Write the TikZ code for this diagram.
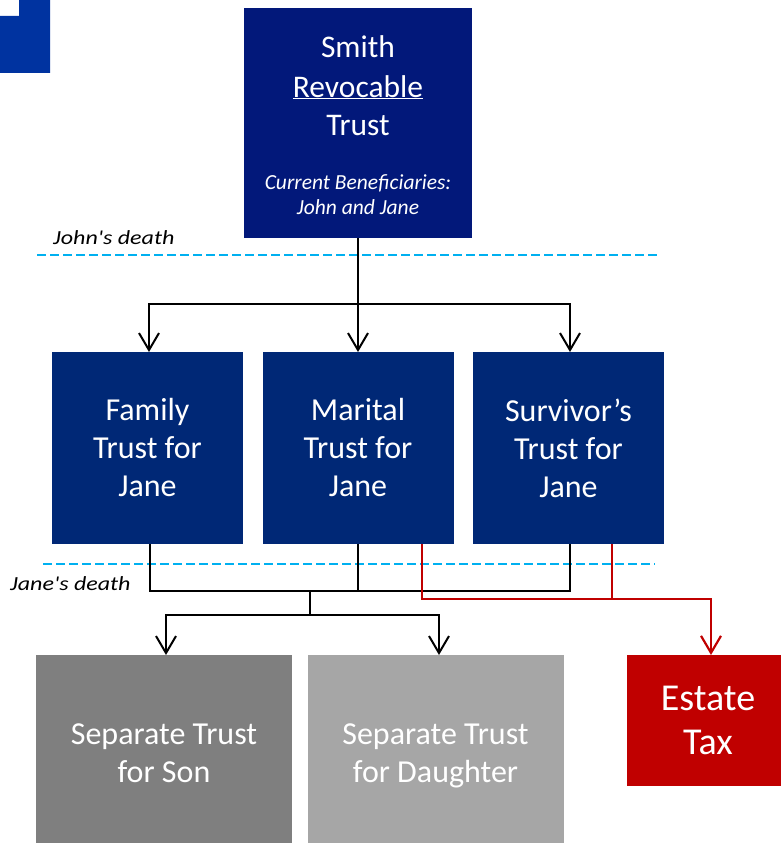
\documentclass[tikz,border=0pt]{standalone}
\usepackage{fontspec}
\setmainfont{Carlito}
\newfontfamily\deathfont{Carlito}[FakeStretch=1.2]
\usetikzlibrary{arrows.meta}
\definecolor{topblue}{RGB}{2,24,122}
\definecolor{midblue}{RGB}{0,40,118}
\definecolor{cornerblue}{RGB}{0,51,160}
\definecolor{sonGray}{RGB}{127,127,127}
\definecolor{dauGray}{RGB}{166,166,166}
\definecolor{taxRed}{RGB}{192,0,0}
\definecolor{dashBlue}{RGB}{0,176,240}
\tikzset{
  boxbase/.style={rectangle, inner sep=0pt, outer sep=0pt, text=white, align=center},
  midbox/.style={boxbase, fill=midblue, minimum width=191pt, minimum height=192pt,
     font=\fontsize{32}{38}\selectfont},
  botbox/.style={boxbase, minimum width=256pt, minimum height=202pt,
     font=\fontsize{32}{38}\selectfont},
  toptext/.style={text=white, inner sep=0pt, anchor=base, font=\fontsize{31.5}{38}\selectfont},
  topital/.style={text=white, inner sep=0pt, anchor=base, font=\fontsize{21.5}{26}\selectfont\itshape},
  deathlabel/.style={inner sep=0pt, anchor=base west, font=\deathfont\fontsize{20}{24}\selectfont\itshape},
  timeline/.style={dashBlue, line width=2.5pt, dash pattern=on 9pt off 4pt},
  conn/.style={black, line width=2pt},
  arr/.style={conn, -{Straight Barb[length=17pt, width=20pt, line width=2pt]}},
  redconn/.style={taxRed, line width=2.2pt},
  redarr/.style={redconn, -{Straight Barb[length=17pt, width=20pt, line width=2.2pt]}},
}
\begin{document}
\begin{tikzpicture}[x=1pt, y=-1pt]
\useasboundingbox (0,0) rectangle (780,843);
% corner decoration
\fill[cornerblue] (0,16) -- (19,16) -- (19,0) -- (50,0) -- (50,73) -- (0,73) -- cycle;

% timelines
\draw[timeline] (37,255) -- (660,255);
\draw[timeline] (43,564) -- (655,564);
\node[deathlabel] (jdeath) at (53,244) {John{\char"27}s death};
\node[deathlabel] (janedeath) at (10,590) {Jane{\char"27}s death};

% top box
\node[boxbase, fill=topblue, minimum width=228pt, minimum height=230pt] (top) at (358,123) {};
\node[toptext] (t1) at (358,58) {Smith};
\node[toptext] (t2) at (358,97) {\underline{Revocable}};
\node[toptext] (t3) at (358,135) {Trust};
\node[topital] (t4) at (358,189) {Current Beneficiaries:};
\node[topital] (t5) at (358,214) {John and Jane};

% middle boxes
\node[midbox] (fam) at (147.5,448) {Family\\Trust for\\Jane};
\node[midbox] (mar) at (358,448) {Marital\\Trust for\\Jane};
\node[midbox] (sur) at (568.5,448) {Survivor’s\\Trust for\\Jane};

% bottom boxes (extend below the page edge)
\node[botbox, fill=sonGray] (son) at (164,756) {Separate Trust\\for Son\vphantom{g}};
\node[botbox, fill=dauGray] (dau) at (435.5,756) {Separate Trust\\for Daughter};
\node[boxbase, fill=taxRed, minimum width=162pt, minimum height=131pt,
      font=\fontsize{38}{44}\selectfont] (tax) at (708,720.5) {Estate\\Tax};

% John's death split
\coordinate (split) at (358,304);
\draw[conn] (top.south) -- (split);
\draw[arr] (split) -- (mar.north);
\draw[arr] (split) -| ([xshift=1.5pt]fam.north);
\draw[arr] (split) -| ([xshift=1.5pt]sur.north);

% Jane's death merge
\coordinate (merge) at (310,591);
\coordinate (fork) at (310,615);
\draw[conn] ([xshift=2.5pt]fam.south) |- (merge) -| ([xshift=1.5pt]sur.south);
\draw[conn] (mar.south) -- (mar.south |- merge);
\draw[conn] (merge) -- (fork);
\draw[arr] (fork) -| ([xshift=2pt]son.north);
\draw[arr] (fork) -| ([xshift=3.5pt]dau.north);

% estate tax
\coordinate (redjoin) at (612,599);
\draw[redarr] ([xshift=64pt]mar.south) |- (redjoin) -| ([xshift=3pt]tax.north);
\draw[taxRed, line width=1.5pt] ([xshift=43.5pt]sur.south) -- (redjoin);
\end{tikzpicture}
\end{document}
